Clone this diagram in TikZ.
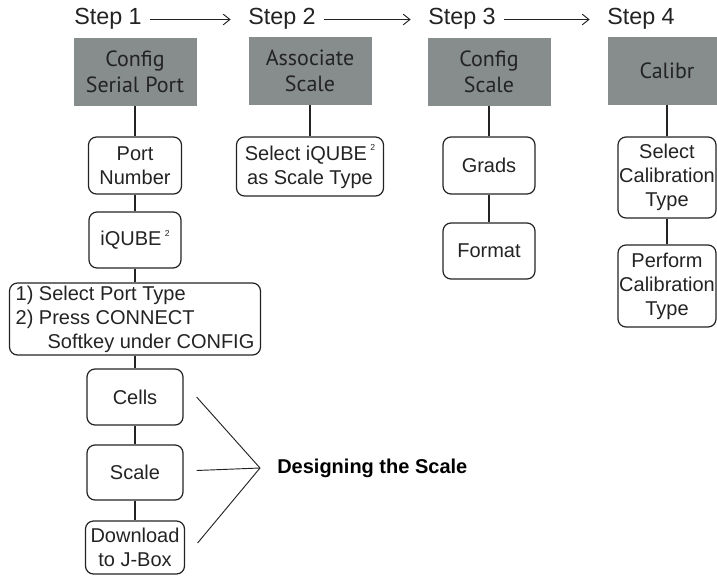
\documentclass[tikz,border=0pt]{standalone}
\usepackage{fontspec}
\setmainfont{Liberation Sans}
\newfontfamily\headfont{PT Sans}
\usepackage{xcolor}
\usetikzlibrary{arrows.meta,calc}

\definecolor{headgray}{RGB}{135,140,140}
\definecolor{inkgray}{RGB}{35,35,35}
\newcommand{\sqtwo}{\hspace{2.5pt}\raisebox{7pt}{\fontsize{6.5}{6.5}\selectfont 2}}

\tikzset{
  steplabel/.style={font=\fontsize{17.5}{17.5}\selectfont, text=inkgray, inner sep=0pt, anchor=west, text height=0.716em, text depth=0pt},
  head/.style={fill=headgray, text=inkgray, font=\headfont\fontsize{16.5}{19.5}\selectfont, align=center, inner sep=0pt, minimum width=92.25pt, minimum height=51pt},
  item/.style={draw=inkgray, line width=0.9pt, rounded corners=6pt, text=inkgray, align=center, inner sep=0pt, font=\fontsize{15}{18}\selectfont},
  link/.style={draw=inkgray, line width=1pt},
}

\begin{document}
\begin{tikzpicture}[x=0.75pt, y=-0.75pt]
\useasboundingbox (0,0) rectangle (717,575);
\clip (0,0) rectangle (717,575);
% step labels
\node[steplabel] (step1) at (74,19.5) {Step 1};
\node[steplabel] (step2) at (248,19.5) {Step 2};
\node[steplabel] (step3) at (428,19.5) {Step 3};
\node[steplabel] (step4) at (607,19.5) {Step 4};
\foreach \a/\b in {step1/step2, step2/step3, step3/step4}
  \draw[line width=0.7pt, draw=inkgray, -{Straight Barb[length=5pt, width=8pt]}, shorten <=6pt, shorten >=13pt] (\a) -- (\b);
% grey headers
\node[head] (cfgport) at (135,72) {Config\\Serial Port};
\node[head] (assoc) at (310,71) {Associate\\Scale};
\node[head] (cfgscale) at (489,72) {Config\\Scale};
\node[head, minimum width=88.5pt] (calib) at (667,71) {Calibr};
% step 1 column
\node[item, minimum width=69.75pt, minimum height=42.75pt] (portnum) at (135,165.5) {Port\\Number};
\node[item, minimum width=69pt, minimum height=42pt] (iqube) at (135,240) {iQUBE\sqtwo};
\node[item, minimum width=188.25pt, minimum height=54pt, align=left] (porttype) at (135,319)
  {1) Select Port Type\\2) Press CONNECT\\\hspace*{24pt}Softkey under CONFIG};
\node[item, minimum width=72pt, minimum height=42pt] (cells) at (135,397) {Cells};
\node[item, minimum width=72pt, minimum height=41.25pt] (scalebox) at (135,472.5) {Scale};
\node[item, minimum width=74.25pt, minimum height=39.75pt] (download) at (135,547.5) {Download\\to J-Box};
% step 2 column
\node[item, minimum width=110.25pt, minimum height=44.25pt] (selq) at (310,166.5) {Select iQUBE\sqtwo\\as Scale Type};
% step 3 column
\node[item, minimum width=69pt, minimum height=42.75pt] (grads) at (489,165.5) {Grads};
\node[item, minimum width=69pt, minimum height=42pt] (format) at (489,251) {Format};
% step 4 column
\node[item, minimum width=73.5pt, minimum height=60.75pt] (calsel) at (667,177.5) {Select\\Calibration\\Type};
\node[item, minimum width=73.5pt, minimum height=61.5pt] (calrun) at (667,286) {Perform\\Calibration\\Type};
% connectors
\foreach \a/\b in {cfgport/portnum, portnum/iqube, iqube/porttype, porttype/cells, cells/scalebox, scalebox/download,
                   assoc/selq, cfgscale/grads, grads/format, calib/calsel, calsel/calrun}
  \draw[link] (\a) -- (\b);
% bracket
\coordinate (apex) at (260,468);
\draw[draw=inkgray, line width=0.7pt] ($(cells.east)+(13,0)$) -- (apex) -- ($(download.east)+(12.5,-4.5)$);
\draw[draw=inkgray, line width=0.7pt] ($(scalebox.east)+(13,-2)$) -- (apex);
\node[anchor=west, inner sep=0pt, font=\bfseries\fontsize{15}{15}\selectfont] (design) at (277,468) {Designing the Scale};
\end{tikzpicture}
\end{document}
